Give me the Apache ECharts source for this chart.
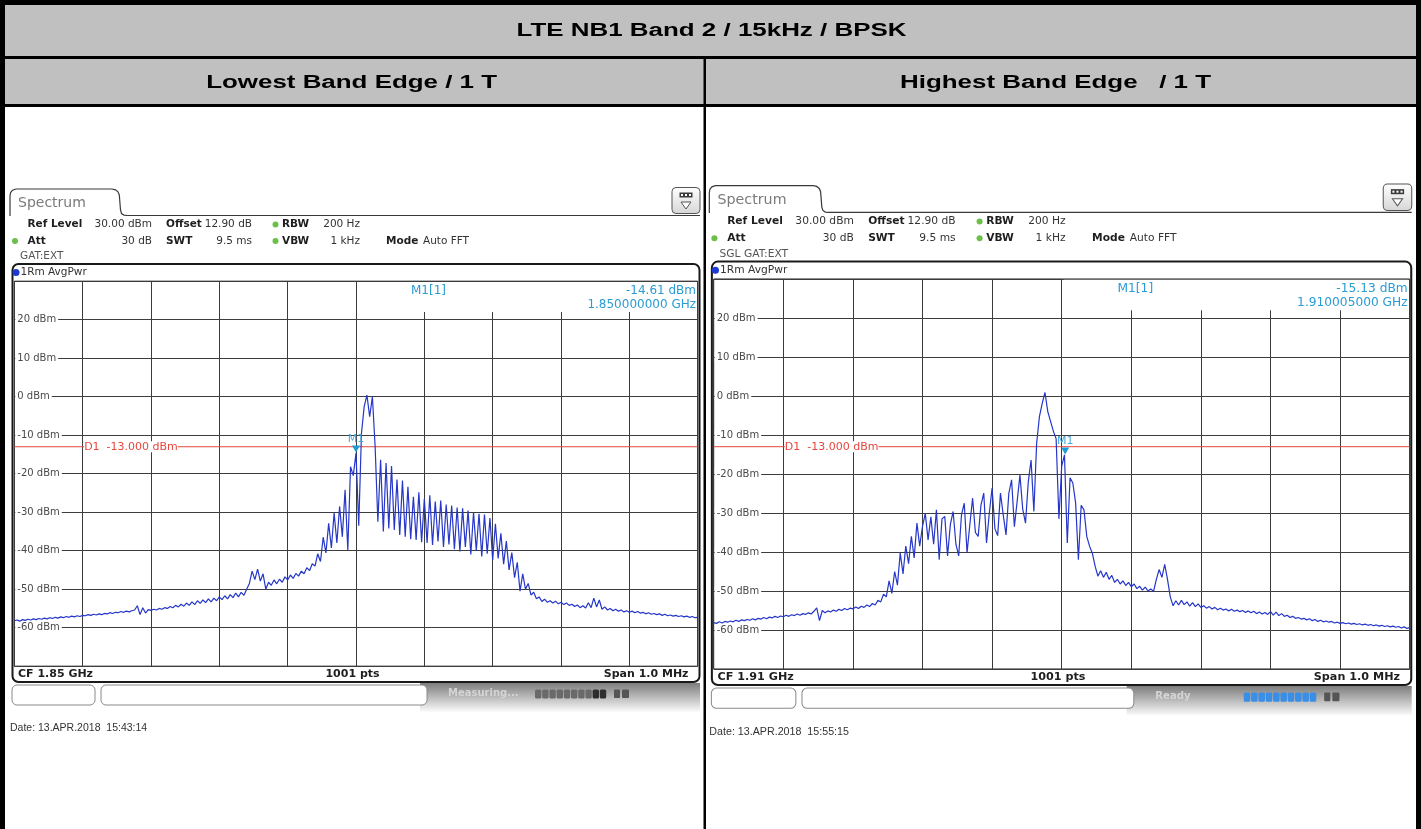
<!DOCTYPE html>
<html><head><meta charset="utf-8">
<script src="https://cdn.jsdelivr.net/npm/echarts/dist/echarts.min.js"></script>
<style>html,body{margin:0;padding:0;background:#fff;}#c{width:1421px;height:829px;}</style>
</head><body><div id="c"></div><script>
// ---- data (frequency offset from centre in kHz, level in dBm) ----
const kHzStart = -500, kHzStep = 4;
const leftLevels = [
-58.2,-58.0,-58.3,-57.9,-58.1,-57.8,-58.0,-57.7,-57.9,-57.6,
-57.8,-57.5,-57.7,-57.4,-57.6,-57.3,-57.5,-57.2,-57.4,-57.1,
-57.3,-57.0,-57.2,-56.9,-57.1,-56.8,-56.9,-56.6,-56.8,-56.5,
-56.7,-56.4,-56.6,-56.3,-56.4,-56.1,-56.3,-56.0,-56.1,-55.8,
-56.0,-55.7,-55.9,-55.6,-55.4,-54.3,-56.6,-54.8,-56.2,-55.3,
-55.5,-55.2,-55.4,-55.0,-55.2,-54.8,-55.0,-54.5,-54.8,-54.2,
-54.6,-53.9,-54.4,-53.6,-54.2,-53.3,-54.0,-53.0,-53.7,-52.8,
-53.5,-52.5,-53.3,-52.3,-53.0,-52.0,-52.7,-51.7,-52.5,-51.4,
-52.2,-51.0,-52.0,-50.8,-51.6,-50.0,-48.5,-45.3,-47.5,-44.8,
-47.9,-46.0,-50.0,-48.2,-49.0,-47.6,-48.6,-47.4,-48.2,-46.8,
-47.6,-46.3,-47.2,-45.9,-46.6,-45.3,-46.0,-44.4,-45.2,-43.4,
-44.0,-40.8,-42.8,-36.5,-40.6,-32.9,-39.3,-30.2,-38.0,-28.5,
-36.4,-24.2,-39.8,-18.2,-20.5,-14.61,-33.5,-9.5,-2.5,0.4,
-5.2,0.0,-13.0,-32.5,-16.4,-35.0,-17.2,-34.2,-18.0,-34.6,
-21.5,-35.9,-21.8,-36.4,-23.4,-37.0,-26.0,-37.2,-24.8,-37.8,
-26.5,-38.0,-25.6,-38.5,-27.2,-37.6,-27.0,-39.0,-28.0,-38.4,
-28.3,-39.6,-28.8,-40.2,-29.0,-39.0,-29.6,-41.0,-30.0,-40.0,
-30.4,-41.5,-30.6,-40.8,-31.5,-42.4,-33.0,-42.0,-35.5,-43.5,
-37.5,-45.0,-40.5,-47.0,-43.0,-50.5,-46.0,-50.0,-48.5,-51.5,
-50.8,-52.5,-52.0,-53.2,-52.6,-53.4,-53.0,-53.6,-53.1,-53.8,
-53.4,-54.0,-53.6,-54.2,-53.9,-54.5,-54.1,-54.8,-54.3,-54.9,
-53.5,-54.8,-52.3,-54.6,-52.8,-55.2,-54.6,-55.4,-55.0,-55.6,
-55.2,-55.7,-55.4,-55.9,-55.6,-56.0,-55.7,-56.1,-55.8,-56.2,
-56.0,-56.4,-56.1,-56.5,-56.3,-56.6,-56.4,-56.8,-56.5,-56.9,
-56.7,-57.0,-56.8,-57.1,-56.9,-57.2,-57.0,-57.3,-57.1,-57.4,-57.3
];
const rightLevels = [
-58.1,-58.3,-57.9,-58.2,-57.8,-58.0,-57.7,-57.9,-57.5,-57.8,
-57.4,-57.6,-57.3,-57.5,-57.1,-57.4,-57.0,-57.2,-56.8,-57.1,
-56.7,-56.9,-56.5,-56.8,-56.4,-56.6,-56.2,-56.5,-56.1,-56.3,
-55.9,-56.2,-55.8,-56.0,-55.6,-55.9,-55.2,-54.3,-57.6,-55.0,
-55.6,-55.1,-55.4,-54.9,-55.2,-54.7,-55.0,-54.5,-54.8,-54.4,
-54.6,-54.1,-54.5,-53.9,-54.2,-53.6,-54.0,-53.2,-53.6,-52.4,
-52.8,-50.8,-51.5,-47.4,-50.6,-45.0,-48.5,-40.3,-45.6,-38.5,
-43.0,-36.0,-41.5,-32.6,-38.5,-33.4,-30.1,-36.9,-31.0,-38.0,
-29.2,-42.0,-31.5,-30.9,-41.0,-33.0,-29.6,-38.0,-41.0,-30.5,
-27.5,-40.2,-33.0,-26.2,-35.0,-36.0,-28.0,-24.9,-37.7,-30.0,
-23.6,-34.0,-35.8,-24.9,-30.5,-35.6,-25.0,-21.5,-33.5,-27.0,
-20.3,-29.0,-32.6,-22.0,-16.4,-29.6,-12.1,-5.3,-1.9,0.9,
-4.0,-6.5,-9.0,-11.0,-31.5,-18.0,-15.1,-37.7,-21.0,-22.3,
-27.4,-42.0,-28.0,-29.2,-36.0,-38.5,-40.3,-43.6,-46.2,-44.8,
-46.5,-45.2,-47.0,-46.0,-47.8,-47.0,-48.2,-47.4,-48.6,-47.8,
-48.9,-48.2,-49.4,-48.8,-49.8,-49.0,-50.0,-49.5,-50.1,-47.0,
-44.5,-46.5,-43.2,-47.0,-51.5,-53.8,-52.5,-53.6,-52.4,-53.5,
-52.8,-53.9,-53.0,-54.0,-53.3,-54.2,-53.8,-54.4,-54.0,-54.6,
-54.2,-54.8,-54.4,-54.9,-54.6,-55.1,-54.7,-55.2,-54.9,-55.3,
-55.0,-55.5,-55.1,-55.6,-55.2,-55.8,-55.4,-55.9,-55.5,-56.0,
-55.3,-56.2,-55.4,-56.3,-55.8,-56.5,-56.2,-56.8,-56.5,-57.0,
-56.8,-57.2,-57.0,-57.4,-57.1,-57.6,-57.3,-57.8,-57.5,-57.9,
-57.7,-58.0,-57.8,-58.2,-58.0,-58.3,-58.1,-58.4,-58.2,-58.5,
-58.3,-58.6,-58.4,-58.7,-58.5,-58.8,-58.6,-58.9,-58.7,-59.0,
-58.8,-59.1,-58.9,-59.2,-59.0,-59.3,-59.1,-59.5,-59.2,-59.6,-59.4
];
const yTickValues = [20, 10, 0, -10, -20, -30, -40, -50, -60];
const leftMarker = { freq: 0, level: -14.61 };
const rightMarker = { freq: 5, level: -15.13 };
const limitLevel = -13;
const limitLabel = 'D1  -13.000 dBm';
const titleText = 'LTE NB1 Band 2 / 15kHz / BPSK';
const colHeaders = ['Lowest Band Edge / 1 T', 'Highest Band Edge   / 1 T'];

// ---- chart ----
const F = '"DejaVu Sans"';
const chart = echarts.init(document.getElementById('c'), null, { width: 1421, height: 829 });

function mkX(gi) {
  return { gridIndex: gi, type: 'value', min: -500, max: 500, interval: 100,
    axisLine: { show: false }, axisTick: { show: false }, axisLabel: { show: false },
    splitLine: { show: true, lineStyle: { color: '#3c3c3c', width: 1 } } };
}
function mkY(gi, labels) {
  return { gridIndex: gi, type: 'value', min: -70, max: 30, interval: 10, position: 'left',
    axisLine: { show: false }, axisTick: { show: false },
    splitLine: { show: !labels, lineStyle: { color: '#3c3c3c', width: 1 } },
    axisLabel: labels ? { show: true, inside: true, margin: 1, showMinLabel: false, showMaxLabel: false,
      formatter: v => yTickValues.indexOf(v) >= 0 ? v + ' dBm' : '',
      color: '#4a4a4a', fontFamily: 'DejaVu Sans', fontSize: 10, backgroundColor: '#fff', padding: [0, 2, 0, 2] }
      : { show: false } };
}
function traceSeries(levels, xi, yi, marker) {
  return {
    type: 'line', xAxisIndex: xi, yAxisIndex: yi, z: 3, silent: true, animation: false,
    data: levels.map((v, i) => [kHzStart + i * kHzStep, v]),
    symbol: 'none', lineStyle: { color: '#2536c8', width: 1.2 },
    markPoint: { silent: true, animation: false, data: [
      { coord: [marker.freq, marker.level], symbol: 'triangle', symbolRotate: 180, symbolSize: [8, 7], symbolOffset: [0, -4],
        itemStyle: { color: '#1e9bd7' },
        label: { show: true, position: 'top', distance: 1, formatter: 'M1', color: '#4aa8d8', fontSize: 11, fontFamily: 'DejaVu Sans' } }
    ] }
  };
}
function limitSeries(xi, yi) {
  return {
    type: 'line', xAxisIndex: xi, yAxisIndex: yi, z: 2, silent: true, animation: false,
    data: [[kHzStart, limitLevel], [-kHzStart, limitLevel]],
    symbol: 'none', lineStyle: { color: '#e5473d', width: 1 },
    markPoint: { silent: true, animation: false, data: [
      { coord: [-400, limitLevel], symbol: 'rect', symbolSize: 1, itemStyle: { color: 'rgba(0,0,0,0)' },
        label: { show: true, position: 'right', distance: 1, formatter: limitLabel, color: '#e5473d',
          backgroundColor: '#fff', fontSize: 11, fontFamily: 'DejaVu Sans' } }
    ] }
  };
}

function panelGraphic(p) {
  const t = (x, y, text, o) => ({ type: 'text', x, y, z: 20, silent: true,
    style: Object.assign({ text, fill: '#333', font: '10.5px ' + F, align: 'left', verticalAlign: 'middle' }, o || {}) });
  const b = (x, y, text, o) => t(x, y, text, Object.assign({ fill: '#1e1e1e', font: 'bold 10.5px ' + F }, o || {}));
  const r = (x, y, w, h, style, rad) => ({ type: 'rect', z: 20, silent: true, shape: { x, y, width: w, height: h, r: rad || 0 }, style });
  const dot = (cx, cy, rr, fill) => ({ type: 'circle', z: 20, silent: true, shape: { cx, cy, r: rr }, style: { fill } });
  const kids = [
    { type: 'polyline', z: 20, silent: true,
      shape: { points: [[10, 216], [10, 196], [10.6, 192.5], [12.5, 190.2], [16, 189], [112, 189], [115.5, 189.8], [118, 191.8], [119.3, 195],
        [120.5, 210], [121.5, 213.5], [124, 215.1], [127, 215.5], [700, 215.5]] },
      style: { fill: null, stroke: '#3a3a3a', lineWidth: 1.2 } },
    t(18, 203.5, 'Spectrum', { fill: '#7a7a7a', font: '14px ' + F }),
    r(672, 187.5, 28, 26, { fill: { type: 'linear', x: 0, y: 0, x2: 0, y2: 1, colorStops: [{ offset: 0, color: '#ffffff' }, { offset: 1, color: '#d6d6d6' }] }, stroke: '#555', lineWidth: 1 }, 4),
    r(679.5, 192.5, 13, 5, { fill: '#3a3a3a' }),
    r(681, 194, 2, 2, { fill: '#fff' }), r(685, 194, 2, 2, { fill: '#fff' }), r(689, 194, 2, 2, { fill: '#fff' }),
    { type: 'polygon', z: 20, silent: true, shape: { points: [[681, 202], [691, 202], [686, 209]] }, style: { fill: '#fff', stroke: '#555', lineWidth: 1 } },
    b(27.5, 224.5, 'Ref Level'), t(152, 224.5, '30.00 dBm', { align: 'right' }), b(166, 224.5, 'Offset'), t(252, 224.5, '12.90 dB', { align: 'right' }),
    dot(275.5, 224.5, 3, '#6cc04a'), b(282, 224.5, 'RBW'), t(360, 224.5, '200 Hz', { align: 'right' }),
    dot(15, 241, 3, '#6cc04a'), b(27.5, 241, 'Att'), t(152, 241, '30 dB', { align: 'right' }), b(166, 241, 'SWT'), t(252, 241, '9.5 ms', { align: 'right' }),
    dot(275.5, 241, 3, '#6cc04a'), b(282, 241, 'VBW'), t(360, 241, '1 kHz', { align: 'right' }), b(386, 241, 'Mode'), t(423, 241, 'Auto FFT'),
    t(20, 256.5, p.gat, { fill: '#555' }),
    r(12.5, 264, 687, 418, { fill: null, stroke: '#1a1a1a', lineWidth: 2 }, 6),
    dot(16, 272.5, 3.5, '#1d3bd1'), t(20.5, 272.5, '1Rm AvgPwr'),
    r(358, 282, 339, 30, { fill: '#fff' }),
    t(411, 290.7, 'M1[1]', { fill: '#2a9bd4', font: '12px ' + F }),
    t(696, 290.7, p.mLevel, { fill: '#2a9bd4', font: '12px ' + F, align: 'right' }),
    t(696, 305, p.mFreq, { fill: '#2a9bd4', font: '12px ' + F, align: 'right' }),
    b(18, 674.3, p.cf, { font: 'bold 11px ' + F }),
    b(352.5, 674.3, '1001 pts', { font: 'bold 11px ' + F, align: 'center' }),
    b(688.5, 674.3, 'Span 1.0 MHz', { font: 'bold 11px ' + F, align: 'right' }),
    r(420, 683, 280, 29, { fill: { type: 'linear', x: 0, y: 0, x2: 0, y2: 1, colorStops: [{ offset: 0, color: '#7d7d7d' }, { offset: 0.5, color: '#bcbcbc' }, { offset: 1, color: '#fbfbfb' }] } }),
    r(12, 685, 83, 20, { fill: '#fff', stroke: '#8a8a8a', lineWidth: 1 }, 5),
    r(101, 685, 326, 20, { fill: '#fff', stroke: '#8a8a8a', lineWidth: 1 }, 5),
    t(448, 693, p.status, { fill: '#d4d4d4', font: 'bold 10px ' + F }),
    r(614, 689.5, 6, 8.5, { fill: '#555' }, 1), r(622, 689.5, 7, 8.5, { fill: '#555' }, 1),
    t(10, 728, p.date, { fill: '#333', font: '10.5px "Liberation Sans"' })
  ];
  for (let i = 0; i < 10; i++) {
    kids.push(r(535 + i * 7.2, 689.5, 6.4, 9, { fill: p.blue ? '#3a8ee6' : (i < 8 ? '#6a6a6a' : '#2e2e2e') }, 1.5));
  }
  return { type: 'group', x: p.ox - 14.3 * p.sx, y: p.oy - 281.2 * p.sy, scaleX: p.sx, scaleY: p.sy, children: kids };
}

const tableGraphic = [
  { type: 'rect', shape: { x: 5, y: 5, width: 1411, height: 51 }, style: { fill: '#c0c0c0' } },
  { type: 'rect', shape: { x: 5, y: 59, width: 1411, height: 45 }, style: { fill: '#c0c0c0' } },
  { type: 'rect', shape: { x: 0, y: 0, width: 1421, height: 5 }, style: { fill: '#000' } },
  { type: 'rect', shape: { x: 0, y: 56, width: 1421, height: 3 }, style: { fill: '#000' } },
  { type: 'rect', shape: { x: 0, y: 104, width: 1421, height: 3 }, style: { fill: '#000' } },
  { type: 'rect', shape: { x: 703.5, y: 59, width: 2.5, height: 770 }, style: { fill: '#000' } },
  { type: 'rect', shape: { x: 0, y: 0, width: 5, height: 829 }, style: { fill: '#000' } },
  { type: 'rect', shape: { x: 1416, y: 0, width: 5, height: 829 }, style: { fill: '#000' } },
  { type: 'text', x: 711.5, y: 31, scaleX: 1.44, style: { text: titleText, font: 'bold 18px "Liberation Sans"', fill: '#000', align: 'center', verticalAlign: 'middle' } },
  { type: 'text', x: 351.6, y: 83, scaleX: 1.44, style: { text: colHeaders[0], font: 'bold 18px "Liberation Sans"', fill: '#000', align: 'center', verticalAlign: 'middle' } },
  { type: 'text', x: 1055.5, y: 83, scaleX: 1.44, style: { text: colHeaders[1], font: 'bold 18px "Liberation Sans"', fill: '#000', align: 'center', verticalAlign: 'middle' } }
];

const option = {
  backgroundColor: '#fff',
  animation: false,
  grid: [
    { left: 14.3, top: 281.2, width: 683.4, height: 385, show: true, backgroundColor: '#fff', borderColor: '#1a1a1a', borderWidth: 1, containLabel: false, outerBoundsMode: 'none' },
    { left: 713.7, top: 279, width: 696, height: 390, show: true, backgroundColor: '#fff', borderColor: '#1a1a1a', borderWidth: 1, containLabel: false, outerBoundsMode: 'none' }
  ],
  xAxis: [mkX(0), mkX(1)],
  yAxis: [mkY(0, false), mkY(0, true), mkY(1, false), mkY(1, true)],
  series: [limitSeries(0, 0), limitSeries(1, 2), traceSeries(leftLevels, 0, 0, leftMarker), traceSeries(rightLevels, 1, 2, rightMarker)],
  graphic: { elements: tableGraphic.concat([
    panelGraphic({ ox: 14.3, oy: 281.2, sx: 1, sy: 1, gat: 'GAT:EXT', mLevel: '-14.61 dBm', mFreq: '1.850000000 GHz',
      cf: 'CF 1.85 GHz', status: 'Measuring...', blue: false, date: 'Date: 13.APR.2018  15:43:14' }),
    panelGraphic({ ox: 713.7, oy: 279, sx: 1.018, sy: 1.013, gat: 'SGL GAT:EXT', mLevel: '-15.13 dBm', mFreq: '1.910005000 GHz',
      cf: 'CF 1.91 GHz', status: 'Ready', blue: true, date: 'Date: 13.APR.2018  15:55:15' })
  ]) }
};
chart.setOption(option);
</script></body></html>
